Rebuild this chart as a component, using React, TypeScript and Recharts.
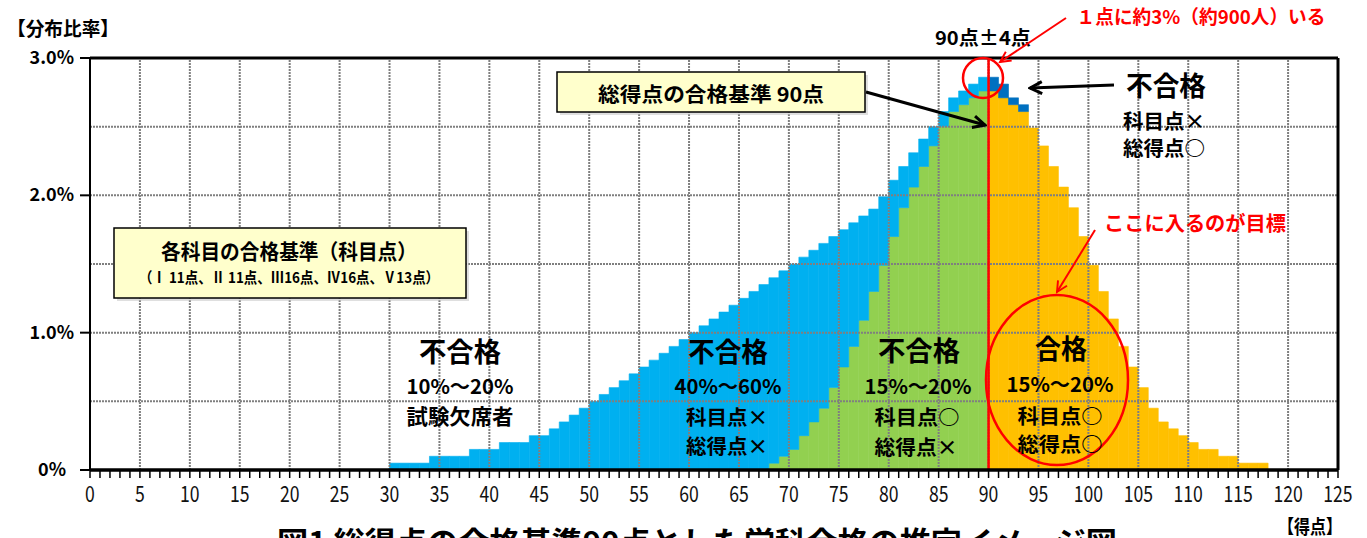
import React from "react";
import { BarChart, Bar, Cell, XAxis, YAxis, ReferenceLine } from "recharts";

/* ---------- Data (分布比率 %, per 1 point of 総得点) ---------- */

const scores = [
  30, 31, 32, 33, 34, 35, 36, 37, 38, 39,
  40, 41, 42, 43, 44, 45, 46, 47, 48, 49,
  50, 51, 52, 53, 54, 55, 56, 57, 58, 59,
  60, 61, 62, 63, 64, 65, 66, 67, 68, 69,
  70, 71, 72, 73, 74, 75, 76, 77, 78, 79,
  80, 81, 82, 83, 84, 85, 86, 87, 88, 89,
  90, 91, 92, 93, 94, 95, 96, 97, 98, 99,
  100, 101, 102, 103, 104, 105, 106, 107, 108, 109,
  110, 111, 112, 113, 114, 115, 116, 117,
];

// whole distribution (top of each column)
const totalRate = [
  0.05, 0.05, 0.05, 0.05, 0.1, 0.1, 0.1, 0.1, 0.15, 0.15,
  0.15, 0.2, 0.2, 0.2, 0.25, 0.25, 0.3, 0.35, 0.4, 0.45,
  0.5, 0.55, 0.6, 0.65, 0.7, 0.75, 0.8, 0.85, 0.9, 0.95,
  1.0, 1.05, 1.1, 1.15, 1.2, 1.25, 1.3, 1.35, 1.4, 1.45,
  1.5, 1.55, 1.6, 1.65, 1.7, 1.75, 1.8, 1.85, 1.9, 1.99,
  2.11, 2.21, 2.31, 2.41, 2.5, 2.61, 2.71, 2.76, 2.81, 2.86,
  2.86, 2.81, 2.71, 2.66, 2.49, 2.36, 2.21, 2.06, 1.91, 1.7,
  1.49, 1.3, 1.1, 0.9, 0.75, 0.6, 0.45, 0.35, 0.3, 0.25,
  0.2, 0.15, 0.15, 0.1, 0.1, 0.05, 0.05, 0.05,
];

// part that clears every 科目点 (green below 90, orange from 90)
const subjectPassRate = [
  0, 0, 0, 0, 0, 0, 0, 0, 0, 0,
  0, 0, 0, 0, 0, 0, 0, 0, 0, 0,
  0, 0, 0, 0, 0, 0, 0, 0, 0, 0,
  0, 0, 0, 0, 0, 0, 0, 0, 0.05, 0.1,
  0.15, 0.25, 0.35, 0.45, 0.6, 0.75, 0.9, 1.09, 1.3, 1.49,
  1.7, 1.91, 2.06, 2.21, 2.36, 2.5, 2.61, 2.66, 2.71, 2.76,
  2.76, 2.71, 2.66, 2.61, 2.49, 2.36, 2.21, 2.06, 1.91, 1.7,
  1.49, 1.3, 1.1, 0.9, 0.75, 0.6, 0.45, 0.35, 0.3, 0.25,
  0.2, 0.15, 0.15, 0.1, 0.1, 0.05, 0.05, 0.05,
];

const passLine = 90;

const xLabelTicks = [0, 5, 10, 15, 20, 25, 30, 35, 40, 45, 50, 55, 60, 65, 70, 75, 80, 85, 90, 95, 100, 105, 110, 115, 120, 125];
const xGridValues = [5, 10, 15, 20, 25, 30, 35, 40, 45, 50, 55, 60, 65, 70, 75, 80, 85, 90, 95, 100, 105, 110, 115, 120];
const yTicks = [0, 1, 2, 3];
const yLabels = ["0%", "1.0%", "2.0%", "3.0%"];
const yGridValues = [0.5, 1, 1.5, 2, 2.5];

/* ---------- Styles ---------- */

const FONT = "'Noto Sans CJK JP', 'Noto Sans', sans-serif";
const LIGHT_BLUE = "#00B0F0";
const DARK_BLUE = "#0070C0";
const GREEN = "#92D050";
const ORANGE = "#FFC000";
const RED = "#FF0000";
const GRID = "#7F7F7F";

const rows = scores.map((s, i) => ({
  x: s + 0.5,
  score: s,
  pass: subjectPassRate[i],
  fail: Math.max(0, +(totalRate[i] - subjectPassRate[i]).toFixed(3)),
}));

const minorTicks = Array.from({ length: 126 }, (_, i) => i);

function XTick(props: any) {
  const { x, y, payload } = props;
  if (!xLabelTicks.includes(payload.value)) return <g />;
  return (
    <text
      transform={`translate(${x},${y + 22}) scale(0.8,1)`}
      textAnchor="middle"
      fontFamily={FONT}
      fontSize={22}
      fill="#111"
    >
      {payload.value}
    </text>
  );
}

function YTick(props: any) {
  const { y, payload } = props;
  const idx = yTicks.indexOf(payload.value);
  const right = payload.value === 0 ? 66 : 74;
  return (
    <text x={right} y={y + 6} textAnchor="end" fontFamily={FONT} fontSize={18} fontWeight="bold" fill="#000">
      {yLabels[idx]}
    </text>
  );
}

function Label({ x, y, size, text, color = "#000", len }: { x: number; y: number; size: number; text: string; color?: string; len?: number }) {
  return (
    <text
      x={x}
      y={y}
      textAnchor="middle"
      dominantBaseline="central"
      fontFamily={FONT}
      fontWeight="bold"
      fontSize={size}
      fill={color}
      textLength={len}
      lengthAdjust={len ? "spacingAndGlyphs" : undefined}
    >
      {text}
    </text>
  );
}

function Overlay() {
  return (
    <svg width={1367} height={538} style={{ position: "absolute", left: 0, top: 0, pointerEvents: "none" }}>
      <defs>
        <marker id="headBlack" viewBox="0 0 16 16" refX="14" refY="8" markerWidth="16" markerHeight="16" markerUnits="userSpaceOnUse" orient="auto">
          <path d="M2,2 L14,8 L2,14" fill="none" stroke="#000" strokeWidth="3" />
        </marker>
        <marker id="headRed" viewBox="0 0 16 16" refX="14" refY="8" markerWidth="14" markerHeight="14" markerUnits="userSpaceOnUse" orient="auto">
          <path d="M2,2 L14,8 L2,14" fill="none" stroke={RED} strokeWidth="2.2" />
        </marker>
      </defs>

      {/* axis captions */}
      <Label x={63} y={27} size={19} text="【分布比率】" len={112} />
      <Label x={1310} y={525} size={19} text="【得点】" len={64} />

      {/* 科目点 box */}
      <rect x={117} y={231} width={352} height={70} fill="#BFBFBF" opacity={0.5} />
      <rect x={114} y={228} width={352} height={70} fill="#FFFFCC" stroke="#000" strokeWidth={1.5} />
      <Label x={289} y={250} size={21} text="各科目の合格基準（科目点）" len={256} />
      <Label x={289} y={276} size={15} text="（Ⅰ 11点、Ⅱ 11点、Ⅲ16点、Ⅳ16点、Ⅴ13点）" len={300} />

      {/* 総得点 box */}
      <rect x={560} y={75} width={308} height={40} fill="#BFBFBF" opacity={0.5} />
      <rect x={557} y={72} width={308} height={40} fill="#FFFFCC" stroke="#000" strokeWidth={1.5} />
      <Label x={711} y={93} size={20} text="総得点の合格基準  90点" len={226} />
      <line x1={866} y1={92} x2={985} y2={125} stroke="#000" strokeWidth={3} markerEnd="url(#headBlack)" />

      {/* 90点±4点 */}
      <Label x={983} y={36} size={19} text="90点±4点" len={96} />
      <circle cx={983} cy={78} r={20} fill="none" stroke={RED} strokeWidth={2.5} />
      <Label x={1201} y={15} size={19} text="１点に約3%（約900人）いる" color={RED} len={249} />
      <line x1={1066} y1={18} x2={1000} y2={62} stroke={RED} strokeWidth={2} markerEnd="url(#headRed)" />

      {/* right upper group */}
      <Label x={1166} y={84} size={27} text="不合格" len={80} />
      <Label x={1164} y={120} size={20} text="科目点×" len={82} />
      <Label x={1164} y={147} size={20} text="総得点○" len={82} />
      <line x1={1114} y1={85} x2={1030} y2={88} stroke="#000" strokeWidth={3} markerEnd="url(#headBlack)" />

      {/* target */}
      <Label x={1195} y={222} size={20} text="ここに入るのが目標" color={RED} len={182} />
      <line x1={1095} y1={230} x2={1057} y2={292} stroke={RED} strokeWidth={2} markerEnd="url(#headRed)" />
      <ellipse cx={1057} cy={380} rx={71} ry={85} fill="none" stroke={RED} strokeWidth={2.5} />

      {/* region labels */}
      <Label x={460} y={350} size={27} text="不合格" len={82} />
      <Label x={460} y={385} size={20} text="10%～20%" len={107} />
      <Label x={460} y={415} size={21} text="試験欠席者" len={107} />

      <Label x={728} y={350} size={27} text="不合格" len={80} />
      <Label x={728} y={385} size={20} text="40%～60%" len={107} />
      <Label x={727} y={416} size={20} text="科目点×" len={82} />
      <Label x={727} y={445} size={20} text="総得点×" len={82} />

      <Label x={919} y={349} size={27} text="不合格" len={82} />
      <Label x={918} y={385} size={20} text="15%～20%" len={107} />
      <Label x={917} y={416} size={20} text="科目点○" len={85} />
      <Label x={916} y={446} size={20} text="総得点×" len={83} />

      <Label x={1061} y={347} size={27} text="合格" len={52} />
      <Label x={1060} y={383} size={20} text="15%～20%" len={107} />
      <Label x={1060} y={415} size={20} text="科目点○" len={85} />
      <Label x={1060} y={443} size={20} text="総得点○" len={85} />

      {/* figure caption (cut by the frame, as in the source) */}
      <text x={277} y={553} fontFamily={FONT} fontWeight="bold" fontSize={30} fill="#000" textLength={840} lengthAdjust="spacingAndGlyphs">
        図1 総得点の合格基準90点とした学科合格の推定イメージ図
      </text>
    </svg>
  );
}

export default function App() {
  return (
    <div style={{ position: "absolute", left: 0, top: 0, width: 1367, height: 538, background: "#fff" }}>
      <BarChart
        width={1367}
        height={538}
        data={rows}
        margin={{ top: 58, right: 29, bottom: 0, left: 0 }}
        barGap={0}
        barCategoryGap={0}
      >
        <XAxis
          dataKey="x"
          type="number"
          domain={[0, 125]}
          ticks={minorTicks}
          interval={0}
          height={68}
          tickSize={8}
          tickLine={{ stroke: "#000", strokeWidth: 1.5 }}
          axisLine={{ stroke: "#000", strokeWidth: 3.5 }}
          tick={<XTick />}
          allowDecimals={false}
        />
        <YAxis
          type="number"
          domain={[0, 3]}
          ticks={yTicks}
          width={90}
          tickSize={10}
          tickLine={{ stroke: "#000", strokeWidth: 2 }}
          axisLine={{ stroke: "#000", strokeWidth: 2 }}
          tick={<YTick />}
        />
        <Bar dataKey="pass" stackId="s" barSize={9.97} isAnimationActive={false}>
          {rows.map((r) => {
            const c = r.score < passLine ? GREEN : ORANGE;
            return <Cell key={`p${r.score}`} fill={c} stroke={c} strokeWidth={0.6} />;
          })}
        </Bar>
        <Bar dataKey="fail" stackId="s" barSize={9.97} isAnimationActive={false}>
          {rows.map((r) => {
            const c = r.score < passLine ? LIGHT_BLUE : DARK_BLUE;
            return <Cell key={`f${r.score}`} fill={c} stroke={c} strokeWidth={0.6} />;
          })}
        </Bar>
        {xGridValues.map((v) => (
          <ReferenceLine key={`gx${v}`} x={v} stroke={GRID} strokeWidth={2} strokeDasharray="2 1" />
        ))}
        {yGridValues.map((v) => (
          <ReferenceLine key={`gy${v}`} y={v} stroke={GRID} strokeWidth={2} strokeDasharray="2 1" />
        ))}
        <ReferenceLine x={passLine} stroke={RED} strokeWidth={2.5} />
        <ReferenceLine y={3} stroke="#000" strokeWidth={3} />
        <ReferenceLine x={125} stroke="#000" strokeWidth={3} />
      </BarChart>
      <Overlay />
    </div>
  );
}
